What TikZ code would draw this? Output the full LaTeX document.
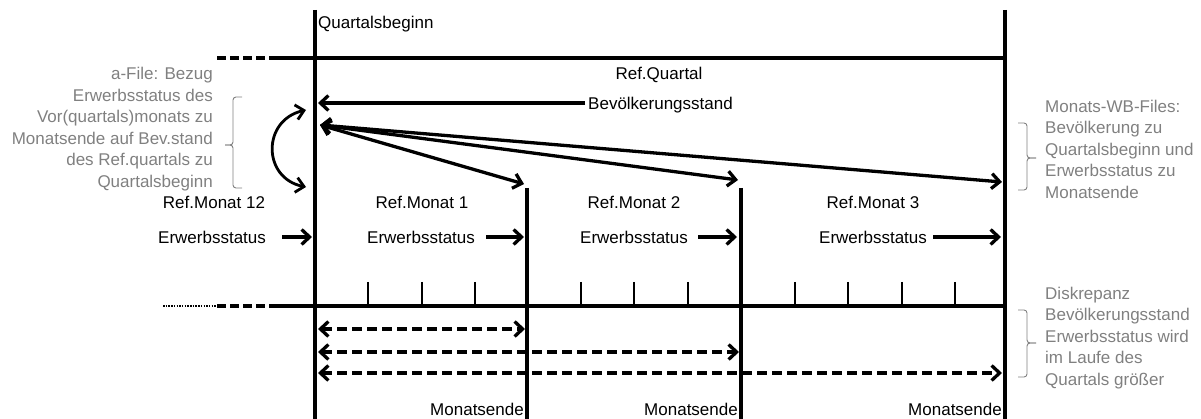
\documentclass[tikz,border=0pt]{standalone}
\usepackage{fontspec}
\setmainfont{Liberation Sans}
\usetikzlibrary{arrows.meta}
\definecolor{notegray}{RGB}{128,128,128}
\begin{document}
\begin{tikzpicture}[x=1pt,y=-1pt,
  font=\fontsize{17}{21.5}\selectfont,
  lbl/.style={inner sep=0pt,text height=12.2pt,text depth=0pt},
  notetext/.style={inner sep=0pt,text=notegray},
  bracket/.style={draw=notegray,line width=0.9pt,rounded corners=3pt},
  axis/.style={line width=3.2pt},
  tickline/.style={line width=2pt},
  arr/.style={line width=3.3pt,-{Straight Barb[length=8pt,width=15pt]}},
  darr/.style={line width=3.3pt,{Straight Barb[length=8pt,width=15pt]}-{Straight Barb[length=8pt,width=15pt]}},
  dasharr/.style={darr,dash pattern=on 10pt off 5pt},
]
\useasboundingbox (0,0) rectangle (1201,419);

% coordinates of main lines
\coordinate (v0t) at (315,10);   \coordinate (v0b) at (315,419);
\coordinate (v3t) at (1005,10);  \coordinate (v3b) at (1005,419);
\coordinate (v1t) at (527,188);  \coordinate (v1b) at (527,419);
\coordinate (v2t) at (741,188);  \coordinate (v2b) at (741,419);
\coordinate (htd) at (217,58); \coordinate (hts) at (270,58); \coordinate (hte) at (1005,58);
\coordinate (hbo) at (163,306); \coordinate (hbd) at (217,306); \coordinate (hbs) at (270,306); \coordinate (hbe) at (1005,306);

\draw[axis] (v0t) -- (v0b);
\draw[axis] (v3t) -- (v3b);
\draw[axis] (v1t) -- (v1b);
\draw[axis] (v2t) -- (v2b);
\draw[axis] (hts) -- (hte);
\draw[axis,dash pattern=on 9pt off 4pt] (htd) -- (hts);
\draw[axis] (hbs) -- (hbe);
\draw[axis,dash pattern=on 9pt off 4pt] (hbd) -- (hbs);
\draw[line width=1.6pt,dash pattern=on 1.5pt off 1.2pt] (hbo) -- (hbd);

% ticks
\foreach \x in {368,422,475,581,634,688,795,848,902,955}
  \draw[tickline] (\x,282) -- (\x,306);

% top labels
\node[lbl,anchor=west] (qb) at (318,22) {Quartalsbeginn};
\node[lbl] (rq) at (659,73) {Ref.Quartal};
\node[lbl,anchor=west] (bev) at (588,103) {Bevölkerungsstand};
\coordinate (bevend) at (318,103);
\draw[arr] (bev.west) ++(-3,0) -- (bevend);

% fan arrows
\coordinate (fan) at (320,125);
\coordinate (f1) at (524,184);
\coordinate (f2) at (738,180);
\coordinate (f3) at (1002,182);
\draw[darr] (fan) -- (f1);
\draw[darr] (fan) -- (f2);
\draw[darr] (fan) -- (f3);

% curved arrow
\coordinate (ca) at (306,110);
\coordinate (cb) at (306,187);
\draw[darr,line width=2.8pt] (ca) .. controls (262,120) and (262,178) .. (cb);

% month labels
\node[lbl] (m12) at (214,202) {Ref.Monat 12};
\node[lbl] (m1) at (422,202) {Ref.Monat 1};
\node[lbl] (m2) at (634,202) {Ref.Monat 2};
\node[lbl] (m3) at (873,202) {Ref.Monat 3};

% Erwerbsstatus rows
\node[lbl,anchor=west] (e0) at (158,237) {Erwerbsstatus};
\node[lbl,anchor=west] (e1) at (367,237) {Erwerbsstatus};
\node[lbl,anchor=west] (e2) at (580,237) {Erwerbsstatus};
\node[lbl,anchor=west] (e3) at (819,237) {Erwerbsstatus};
\coordinate (e0t) at (312,237);
\coordinate (e1t) at (524,237);
\coordinate (e2t) at (737,237);
\coordinate (e3t) at (1001,237);
\draw[arr] (282,237) -- (e0t);
\draw[arr] (486,237) -- (e1t);
\draw[arr] (698,237) -- (e2t);
\draw[arr] (933,237) -- (e3t);

% dashed double arrows
\coordinate (d1a) at (318,329); \coordinate (d1b) at (525,329);
\coordinate (d2a) at (318,352); \coordinate (d2b) at (739,352);
\coordinate (d3a) at (318,373); \coordinate (d3b) at (1002,373);
\draw[dasharr] (d1a) -- (d1b);
\draw[dasharr] (d2a) -- (d2b);
\draw[dasharr] (d3a) -- (d3b);

% Monatsende
\node[lbl,anchor=east] (me1) at (524,409) {Monatsende};
\node[lbl,anchor=east] (me2) at (738,409) {Monatsende};
\node[lbl,anchor=east] (me3) at (1002,409) {Monatsende};

% gray notes
\node[notetext,align=right,anchor=east] (nl) at (213,129) {a-File: Bezug\\Erwerbsstatus des\\Vor(quartals)monats zu\\Monatsende auf Bev.stand\\des Ref.quartals zu\\Quartalsbeginn};
\node[notetext,align=left,anchor=west] (nr) at (1045,149) {Monats-WB-Files:\\Bevölkerung zu\\Quartalsbeginn und\\Erwerbsstatus zu\\Monatsende};
\node[notetext,align=left,anchor=west] (nd) at (1045,338) {Diskrepanz\\Bevölkerungsstand\\Erwerbsstatus wird\\im Laufe des\\Quartals größer};

% brackets
\draw[bracket] (242,97) -- (233,97) -- (233,145) -- (225,145);
\draw[bracket] (225,145) -- (233,145) -- (233,188) -- (242,188);
\draw[bracket] (1018,123) -- (1027,123) -- (1027,158) -- (1036,158);
\draw[bracket] (1036,158) -- (1027,158) -- (1027,190) -- (1018,190);
\draw[bracket] (1018,310) -- (1027,310) -- (1027,343) -- (1036,343);
\draw[bracket] (1036,343) -- (1027,343) -- (1027,377) -- (1018,377);
\end{tikzpicture}
\end{document}
